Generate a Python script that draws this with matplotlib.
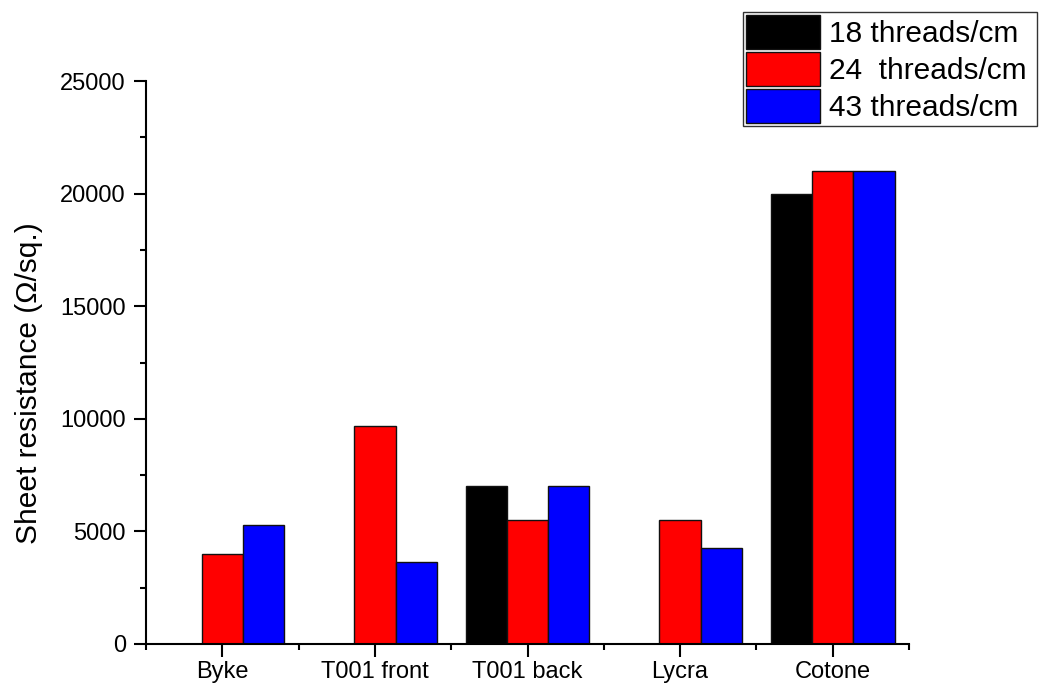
import matplotlib
matplotlib.use("Agg")
import matplotlib.pyplot as plt
from matplotlib.patches import Rectangle
from matplotlib.legend_handler import HandlerPatch
import numpy as np

plt.rcParams['font.family'] = ['Liberation Sans', 'DejaVu Sans']

categories = ["Byke", "T001 front", "T001 back", "Lycra", "Cotone"]
series_labels = ["18 threads/cm", "24  threads/cm", "43 threads/cm"]
series_colors = ["#000000", "#ff0000", "#0000ff"]
values_18 = [0, 0, 7000, 0, 20000]
values_24 = [4000, 9700, 5500, 5500, 21000]
values_43 = [5300, 3650, 7000, 4250, 21000]
series_values = [values_18, values_24, values_43]
y_ticks = [0, 5000, 10000, 15000, 20000, 25000]

W, H = 1042, 693
fig = plt.figure(figsize=(W / 100, H / 100), dpi=100)
ax = fig.add_axes([146 / W, 49 / H, 763 / W, 563 / H])

x = np.arange(len(categories))
width = 0.27
for i, (vals, lab, col) in enumerate(zip(series_values, series_labels, series_colors)):
    ax.bar(x + (i - 1) * width, vals, width, color=col, edgecolor="#111111",
           linewidth=1.0, label=lab)

ax.set_xlim(-0.5, len(categories) - 0.5)
ax.set_ylim(0, 25000)
ax.set_yticks(y_ticks)
ax.set_yticks(np.arange(2500, 25000, 5000), minor=True)
ax.set_xticks(x)
ax.set_xticklabels(categories)
ax.set_xticks(np.arange(-0.5, len(categories), 1.0), minor=True)

for s in ["top", "right"]:
    ax.spines[s].set_visible(False)
for s in ["left", "bottom"]:
    ax.spines[s].set_linewidth(1.5)

ax.tick_params(axis="both", which="major", direction="out", length=9, width=1.5,
               labelsize=17)
ax.tick_params(axis="both", which="minor", direction="out", length=4.5, width=1.5)
ax.tick_params(axis="y", which="major", pad=5.5)
ax.tick_params(axis="x", which="major", pad=3.5)

ax.set_ylabel("Sheet resistance (\u03a9/sq.)", fontsize=21.5)
ax.yaxis.set_label_coords(-0.135, 0.463)


def inset_box(legend, orig_handle, xdescent, ydescent, w, h, fontsize):
    # swatch fills the row height, with a small gap on its left
    gap = 0.22 * fontsize
    return Rectangle((-xdescent + gap, -ydescent), w - gap, h)


leg = fig.legend(loc="upper right", bbox_to_anchor=(1030 / W, 1 - 12 / H),
                 fontsize=21.5, handlelength=2.46, handleheight=1.375,
                 labelspacing=0.1, handletextpad=0.33, borderpad=0.1,
                 borderaxespad=0, frameon=False,
                 handler_map={Rectangle: HandlerPatch(patch_func=inset_box)})

# legend frame, with extra room to the right of the labels
fig.canvas.draw()
bb = leg.get_window_extent()
x0, y0 = bb.x0, bb.y0
x1, y1 = bb.x1 + 7, bb.y1
fig.add_artist(Rectangle((x0 / W, y0 / H), (x1 - x0) / W, (y1 - y0) / H,
                         transform=fig.transFigure, facecolor="none",
                         edgecolor="#333333", linewidth=1.0, zorder=10))

fig.savefig("out.png", dpi=100)
